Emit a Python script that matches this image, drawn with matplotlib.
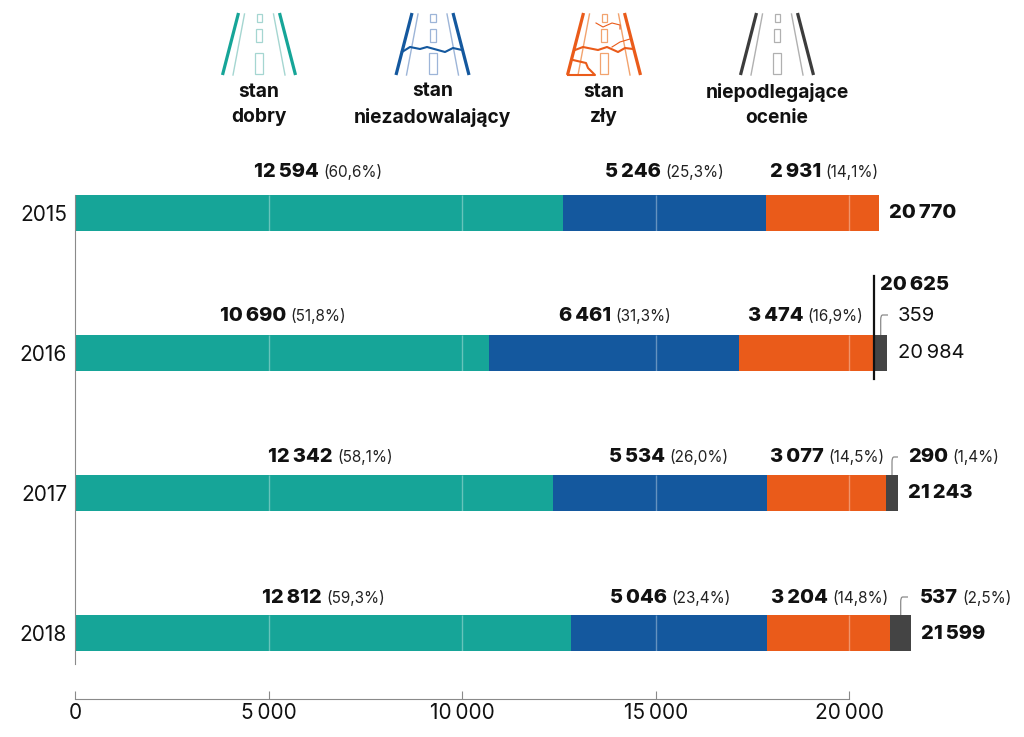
import matplotlib
matplotlib.use("Agg")
import matplotlib.pyplot as plt
from matplotlib.path import Path
from matplotlib.patches import PathPatch, Rectangle
import numpy as np

plt.rcParams['font.family'] = ['Inter', 'DejaVu Sans']

years = ['2015', '2016', '2017', '2018']
dobry = [12594, 10690, 12342, 12812]
niezadowalajacy = [5246, 6461, 5534, 5046]
zly = [2931, 3474, 3077, 3204]
nieocenione = [0, 359, 290, 537]
dobry_pct = ['(60,6%)', '(51,8%)', '(58,1%)', '(59,3%)']
niezad_pct = ['(25,3%)', '(31,3%)', '(26,0%)', '(23,4%)']
zly_pct = ['(14,1%)', '(16,9%)', '(14,5%)', '(14,8%)']
nieoc_pct = ['', '', '(1,4%)', '(2,5%)']
sumy = [20770, 20625, 21243, 21599]
x_ticks = [0, 5000, 10000, 15000, 20000]
legend_names = ['stan\ndobry', 'stan\nniezadowalający', 'stan\nzły', 'niepodlegające\nocenie']

TEAL = '#16A598'
BLUE = '#14589E'
ORANGE = '#EA5B1A'
DARK = '#444444'
GREY = '#8A8A8A'
BLACK = '#111111'
W, H = 1024, 737


def num(v):
    return f'{v:,}'.replace(',', '\u2009')


fig = plt.figure(figsize=(W/100, H/100), dpi=100)

# main axes: left edge at x=75px, axis line at y=699px
x0_px, px_per_unit = 75.4, 0.03870
ax = fig.add_axes([x0_px/W, (H-699)/H, 1-x0_px/W, 699/H])
ax.set_xlim(0, (W-x0_px)/px_per_unit)
row0, row_step = 213, 140
ax.set_ylim((699-row0)/row_step, -row0/row_step)
ax.patch.set_alpha(0)

y = np.arange(len(years))
left = np.zeros(4)
for vals, col in zip([dobry, niezadowalajacy, zly, nieocenione], [TEAL, BLUE, ORANGE, DARK]):
    ax.barh(y, vals, left=left, height=36/row_step, color=col, linewidth=0, zorder=2)
    left = left + np.array(vals)

# white lines through the bars
for i in y:
    ticks = [t for t in x_ticks[1:] if t < left[i]]
    ax.vlines(ticks, i-18/row_step, i+18/row_step, color='white', alpha=0.35, lw=1, zorder=3)

for s in ['top', 'right']:
    ax.spines[s].set_visible(False)
ax.spines['left'].set_color(GREY)
ax.spines['bottom'].set_color(GREY)
ax.spines['left'].set_bounds((195-row0)/row_step, (664-row0)/row_step)
ax.spines['bottom'].set_bounds(0, 20000)
ax.set_yticks(y, years)
ax.set_xticks(x_ticks, [num(t) for t in x_ticks])
ax.tick_params(axis='y', length=0, pad=6, labelsize=15, labelcolor=BLACK)
ax.tick_params(axis='x', direction='in', length=6, color=GREY, pad=3, labelsize=15, labelcolor=BLACK)

# overlay in pixel coordinates for labels and icons
ov = fig.add_axes([0, 0, 1, 1])
ov.set_xlim(0, W)
ov.set_ylim(H, 0)
ov.axis('off')


def pair(xb, yp, bold, reg, size=14.5, size2=11):
    ov.text(xb, yp, bold, ha='right', va='center', fontsize=size, fontweight=800, color=BLACK)
    ov.text(xb+4.5, yp, reg, ha='left', va='center', fontsize=size2, color='#222222')


label_y = [172, 316, 457, 598]
dobry_x = [319, 286, 333, 321.5]
niezad_x = [660.5, 611, 665, 666.5]
zly_x = [821, 803, 824, 828]
for i in range(4):
    pair(dobry_x[i], label_y[i], num(dobry[i]), dobry_pct[i])
    pair(niezad_x[i], label_y[i], num(niezadowalajacy[i]), niezad_pct[i])
    pair(zly_x[i], label_y[i], num(zly[i]), zly_pct[i])

# grey segment labels
pair(948, 457, num(nieocenione[2]), nieoc_pct[2])
pair(958, 598, num(nieocenione[3]), nieoc_pct[3])
ov.text(898, 316, num(nieocenione[1]), ha='left', va='center', fontsize=14.5, color=BLACK)

# totals
tot = dict(ha='left', va='center', fontsize=14.5, fontweight=800, color=BLACK)
ov.text(889, 213, num(sumy[0]), **tot)
ov.text(880, 285, num(sumy[1]), **tot)
ov.text(898, 353, num(sumy[1]+nieocenione[1]), ha='left', va='center', fontsize=14.5, color=BLACK)
ov.text(908, 493, num(sumy[2]), **tot)
ov.text(921, 634, num(sumy[3]), **tot)

# black marker at the 2016 subtotal
ov.plot([873.7, 873.7], [276, 379], color=BLACK, lw=1.6)

# curved connectors
for xc, yb, yt, xe in [(880.7, 335, 315, 888), (892, 475, 457, 898), (900.7, 615, 597, 908)]:
    p = Path([(xc, yb), (xc, yt+5), (xc, yt), (xc+2, yt), (xe, yt)],
             [Path.MOVETO, Path.LINETO, Path.CURVE3, Path.CURVE3, Path.LINETO])
    ov.add_patch(PathPatch(p, fc='none', ec=GREY, lw=0.9))


def road(cx, col, light):
    for s in [-1, 1]:
        ov.plot([cx+s*20.5, cx+s*36.5], [13, 75], color=col, lw=2.3, solid_capstyle='butt')
        ov.plot([cx+s*14.5, cx+s*26], [14, 75], color=light, lw=1.0)
    for xl, yt, w, h in [(-2.5, 14, 5.5, 8), (-3, 29, 6, 13), (-4, 53, 8, 21)]:
        ov.add_patch(Rectangle((cx+xl, yt), w, h, fc='none', ec=light, lw=0.9))


def crack(xs, ys, col, lw):
    ov.plot(xs, ys, color=col, lw=lw, solid_joinstyle='round')


icon_x = [259, 432.5, 604, 777]
road(icon_x[0], TEAL, '#A5D6D1')
road(icon_x[1], BLUE, '#9DB5D8')
road(icon_x[2], ORANGE, '#F2A36E')
road(icon_x[3], '#3C3C3C', '#B0B0B0')
crack([402, 410, 420, 427, 445, 453, 462], [52, 47, 49, 47, 52, 48, 50], BLUE, 1.5)
crack([575, 583, 598, 607, 618, 625, 633], [50, 47, 50, 47, 52, 48, 49], ORANGE, 1.5)
crack([568, 595, 588, 586, 573], [75, 75, 68, 63, 60], ORANGE, 1.5)
crack([596, 603, 612, 620, 620], [23, 27, 23, 25, 29], ORANGE, 0.8)
crack([612, 620, 630], [47, 42, 39], ORANGE, 0.8)

for cx, name in zip(icon_x, legend_names):
    ov.text(cx, 104.5, name, ha='center', va='center', fontsize=13.8, fontweight='bold',
            color=BLACK, linespacing=1.5)

fig.savefig('out.png', dpi=100)
